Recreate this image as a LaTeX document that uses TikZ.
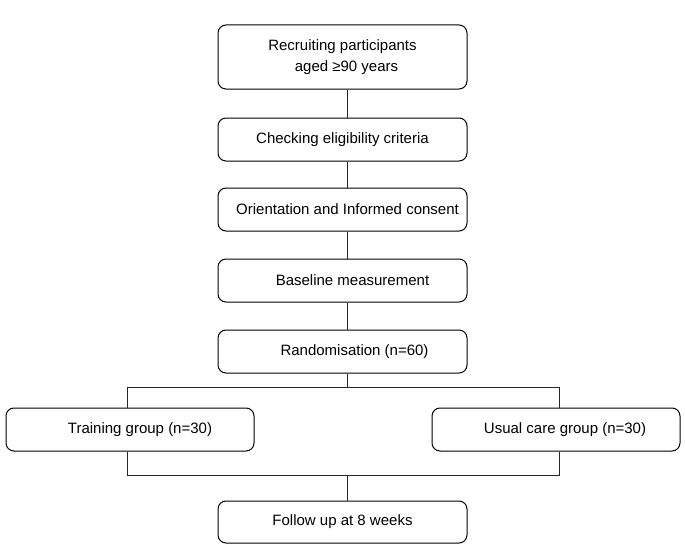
\documentclass[tikz,border=0pt]{standalone}
\usepackage{fontspec}
\setmainfont{Liberation Sans}
\usetikzlibrary{positioning}
\tikzstyle{stage} = [rectangle, rounded corners=8pt,
                     minimum width=249pt, minimum height=43pt,
                     inner sep=0pt, draw=black, line width=1pt,
                     align=center, font=\fontsize{15}{21}\selectfont]
\tikzstyle{link} = [line width=0.9pt, draw=black!85]

\begin{document}
\begin{tikzpicture}[x=1pt, y=-1pt]
        \useasboundingbox (0,0) rectangle (685,551);

        % main column
        \node (rec) [stage, minimum height=64pt] at (342.5,57) {Recruiting participants\\\hspace*{8pt}aged ≥90 years};
        \node (chk) [stage] at (342.5,139.5) {Checking eligibility criteria};
        \node (ori) [stage] at (342.5,209.5) {\hspace*{10pt}Orientation and Informed consent};
        \node (base) [stage] at (342.5,280.5) {\hspace*{20pt}Baseline measurement};
        \node (rand) [stage] at (342.5,351.5) {\hspace*{24pt}Randomisation (n=60)};

        % two arms
        \node (train) [stage, minimum width=248pt] at (130,429.5) {\hspace*{20pt}Training group (n=30)};
        \node (usual) [stage, minimum width=248pt] at (556,429.5) {\hspace*{18pt}Usual care group (n=30)};

        \node (follow) [stage, minimum height=42pt] at (342.5,522) {Follow up at 8 weeks};

        \coordinate (spine) at (347,0);
        \coordinate (splitL) at (127,387);
        \coordinate (splitR) at (559,387);
        \coordinate (joinL) at (127,475);
        \coordinate (joinR) at (559,475);

        \draw [link] (rec.south -| spine) -- (chk.north -| spine);
        \draw [link] (chk.south -| spine) -- (ori.north -| spine);
        \draw [link] (ori.south -| spine) -- (base.north -| spine);
        \draw [link] (base.south -| spine) -- (rand.north -| spine);

        \draw [link] (rand.south -| spine) -- (spine |- splitL); %split
        \draw [link] (train.north -| splitL) -- (splitL) -- (splitR) -- (usual.north -| splitR);

        \draw [link] (train.south -| joinL) -- (joinL) -- (joinR) -- (usual.south -| joinR); %join
        \draw [link] (spine |- joinL) -- (follow.north -| spine);
\end{tikzpicture}
\end{document}
